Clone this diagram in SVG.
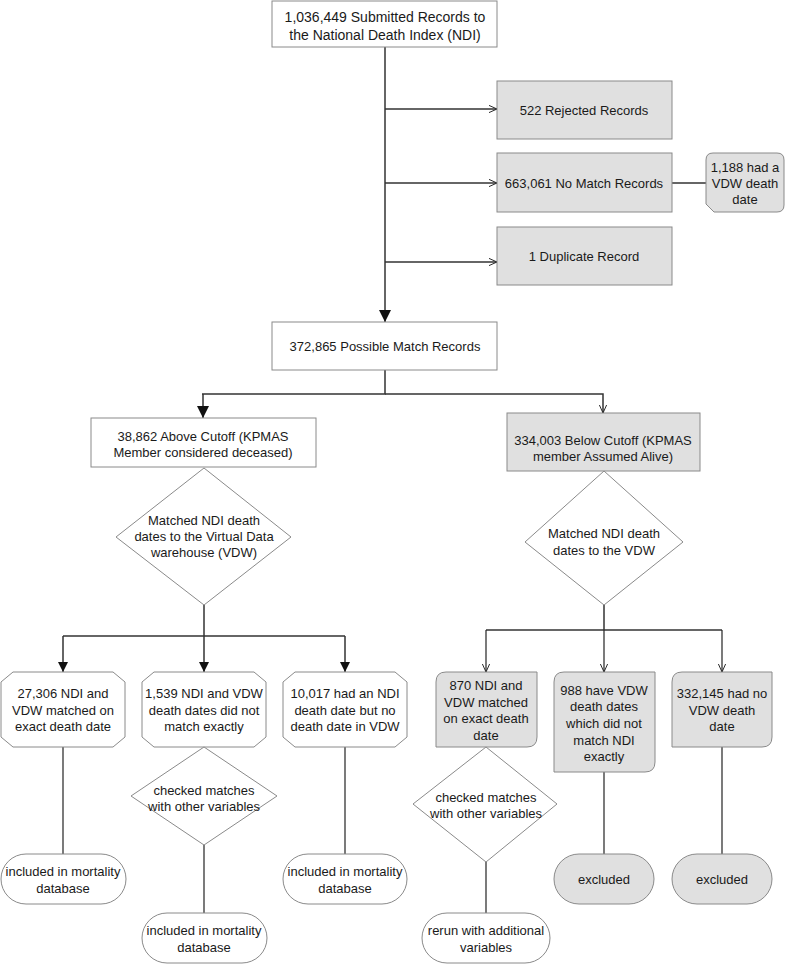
<svg xmlns="http://www.w3.org/2000/svg" width="785" height="964" viewBox="0 0 785 964">
<style>
  text{font-family:"Liberation Sans",Arial,sans-serif;font-size:13px;fill:#1a1a1a;text-anchor:middle;dominant-baseline:central}
  .big{font-size:14px}
  .w{fill:#ffffff;stroke:#8a8a8a;stroke-width:1}
  .g{fill:#e0e0e0;stroke:#8a8a8a;stroke-width:1}
  .c{fill:none;stroke:#333333;stroke-width:1.5}
  .ct{fill:none;stroke:#222222;stroke-width:1.2}
</style>
<defs>
  <marker id="fill" viewBox="0 0 10 10" refX="10" refY="5" markerWidth="10" markerHeight="10" markerUnits="userSpaceOnUse" orient="auto">
    <path d="M0,0 L10,5 L0,10 Z" fill="#111"/>
  </marker>
  <marker id="bigfill" viewBox="0 0 10 10" refX="10" refY="5" markerWidth="15" markerHeight="12" markerUnits="userSpaceOnUse" orient="auto">
    <path d="M0,0 L10,5 L0,10 Z" fill="#111"/>
  </marker>
  <marker id="open" viewBox="0 0 10 10" refX="10" refY="5" markerWidth="8" markerHeight="8" markerUnits="userSpaceOnUse" orient="auto">
    <path d="M0,0.5 L10,5 L0,9.5" fill="none" stroke="#222" stroke-width="1.2"/>
  </marker>
</defs>

<g id="connectors">
  <line class="c" x1="385" y1="47" x2="385" y2="322" marker-end="url(#bigfill)"/>
  <line class="c" x1="385" y1="109" x2="497" y2="109" marker-end="url(#open)"/>
  <line class="c" x1="385" y1="183" x2="497" y2="183" marker-end="url(#open)"/>
  <line class="c" x1="385" y1="262" x2="497" y2="262" marker-end="url(#open)"/>
  <line class="c" x1="672" y1="183" x2="706" y2="183"/>
  <polyline class="c" points="385,370 385,394 202,394"/>
  <line class="c" x1="203" y1="394" x2="203" y2="418" marker-end="url(#bigfill)"/>
  <polyline class="c" points="385,394 603,394 603,413" marker-end="url(#open)"/>
  <line class="c" x1="204" y1="605" x2="204" y2="636"/>
  <line class="c" x1="63" y1="636" x2="345" y2="636"/>
  <line class="c" x1="63" y1="636" x2="63" y2="672" marker-end="url(#fill)"/>
  <line class="c" x1="204" y1="636" x2="204" y2="672" marker-end="url(#fill)"/>
  <line class="c" x1="345" y1="636" x2="345" y2="672" marker-end="url(#fill)"/>
  <line class="c" x1="604" y1="605" x2="604" y2="630"/>
  <line class="c" x1="486" y1="630" x2="722" y2="630"/>
  <line class="ct" x1="486" y1="630" x2="486" y2="672" marker-end="url(#open)"/>
  <line class="ct" x1="604" y1="630" x2="604" y2="672" marker-end="url(#open)"/>
  <line class="ct" x1="722" y1="630" x2="722" y2="672" marker-end="url(#open)"/>
  <line class="ct" x1="63" y1="747" x2="63" y2="854"/>
  <line class="ct" x1="345" y1="747" x2="345" y2="854"/>
  <line class="ct" x1="204" y1="845" x2="204" y2="913"/>
  <line class="ct" x1="486" y1="862" x2="486" y2="913"/>
  <line class="ct" x1="604" y1="772" x2="604" y2="854"/>
  <line class="ct" x1="722" y1="747" x2="722" y2="854"/>
</g>

<g id="submitted">
  <rect class="w" x="272" y="1" width="225" height="46"/>
  <text class="big" x="385" y="17">1,036,449 Submitted Records to</text>
  <text class="big" x="385" y="35">the National Death Index (NDI)</text>
</g>
<g id="rejected">
  <rect class="g" x="497" y="81" width="175" height="58"/>
  <text x="584" y="110">522 Rejected Records</text>
</g>
<g id="nomatch">
  <rect class="g" x="497" y="153" width="175" height="59"/>
  <text x="584" y="183">663,061 No Match Records</text>
</g>
<g id="vdw1188">
  <path class="g" d="M713,153 H777 Q784,153 784,160 V205 Q784,212 777,212 H714 L706,204 V160 Q706,153 713,153 Z"/>
  <text x="745" y="167">1,188 had a</text>
  <text x="745" y="183">VDW death</text>
  <text x="745" y="199">date</text>
</g>
<g id="duplicate">
  <rect class="g" x="497" y="227" width="175" height="58"/>
  <text x="584" y="256">1 Duplicate Record</text>
</g>
<g id="possible">
  <rect class="w" x="272" y="322" width="225" height="48"/>
  <text x="385" y="346">372,865 Possible Match Records</text>
</g>
<g id="above">
  <rect class="w" x="91" y="418" width="225" height="49"/>
  <text x="203" y="436">38,862 Above Cutoff (KPMAS</text>
  <text x="203" y="452">Member considered deceased)</text>
</g>
<g id="below">
  <rect class="g" x="507" y="413" width="193" height="58"/>
  <text x="603" y="440">334,003 Below Cutoff (KPMAS</text>
  <text x="603" y="456">member Assumed Alive)</text>
</g>
<g id="matchLeft">
  <polygon class="w" points="204,468 291,537 204,605 116,537"/>
  <text x="204" y="520">Matched NDI death</text>
  <text x="204" y="536">dates to the Virtual Data</text>
  <text x="204" y="552">warehouse (VDW)</text>
</g>
<g id="matchRight">
  <polygon class="w" points="604,471 683,542 604,605 525,542"/>
  <text x="604" y="533">Matched NDI death</text>
  <text x="604" y="550">dates to the VDW</text>
</g>

<g id="exact27306">
  <polygon class="w" points="13,672 113,672 125,682 125,737 113,747 13,747 1,737 1,682"/>
  <text x="63" y="693">27,306 NDI and</text>
  <text x="63" y="710">VDW matched on</text>
  <text x="63" y="726">exact death date</text>
</g>
<g id="notexact1539">
  <polygon class="w" points="154,672 254,672 266,682 266,737 254,747 154,747 142,737 142,682"/>
  <text x="204" y="693">1,539 NDI and VDW</text>
  <text x="204" y="710">death dates did not</text>
  <text x="204" y="726">match exactly</text>
</g>
<g id="nodate10017">
  <polygon class="w" points="295,672 395,672 407,682 407,737 395,747 295,747 283,737 283,682"/>
  <text x="345" y="693">10,017 had an NDI</text>
  <text x="345" y="710">death date but no</text>
  <text x="345" y="726">death date in VDW</text>
</g>
<g id="checkedLeft">
  <polygon class="w" points="204,747 277,796 204,845 131,796"/>
  <text x="204" y="790">checked matches</text>
  <text x="204" y="806">with other variables</text>
</g>
<g id="included1">
  <rect class="w" x="1" y="854" width="125" height="50" rx="25" ry="25"/>
  <text x="63" y="871">included in mortality</text>
  <text x="63" y="888">database</text>
</g>
<g id="included2">
  <rect class="w" x="142" y="913" width="125" height="50" rx="25" ry="25"/>
  <text x="204" y="930">included in mortality</text>
  <text x="204" y="947">database</text>
</g>
<g id="included3">
  <rect class="w" x="283" y="854" width="124" height="50" rx="25" ry="25"/>
  <text x="345" y="871">included in mortality</text>
  <text x="345" y="888">database</text>
</g>

<g id="exact870">
  <path class="g" d="M446,672 H537 V737 Q537,747 527,747 H436 V682 Q436,672 446,672 Z"/>
  <text x="486" y="685">870 NDI and</text>
  <text x="486" y="702">VDW matched</text>
  <text x="486" y="718">on exact death</text>
  <text x="486" y="735">date</text>
</g>
<g id="notexact988">
  <path class="g" d="M564,672 H655 V762 Q655,772 645,772 H554 V682 Q554,672 564,672 Z"/>
  <text x="604" y="690">988 have VDW</text>
  <text x="604" y="706">death dates</text>
  <text x="604" y="723">which did not</text>
  <text x="604" y="740">match NDI</text>
  <text x="604" y="756">exactly</text>
</g>
<g id="nodate332145">
  <path class="g" d="M682,672 H772 V737 Q772,747 762,747 H672 V682 Q672,672 682,672 Z"/>
  <text x="722" y="693">332,145 had no</text>
  <text x="722" y="710">VDW death</text>
  <text x="722" y="726">date</text>
</g>
<g id="checkedRight">
  <polygon class="w" points="486,747 557,804 486,862 413,804"/>
  <text x="486" y="797">checked matches</text>
  <text x="486" y="813">with other variables</text>
</g>
<g id="rerun">
  <rect class="w" x="422" y="913" width="128" height="50" rx="25" ry="25"/>
  <text x="486" y="930">rerun with additional</text>
  <text x="486" y="947">variables</text>
</g>
<g id="excluded1">
  <rect class="g" x="554" y="854" width="100" height="50" rx="25" ry="25"/>
  <text x="604" y="879">excluded</text>
</g>
<g id="excluded2">
  <rect class="g" x="672" y="854" width="100" height="50" rx="25" ry="25"/>
  <text x="722" y="879">excluded</text>
</g>
</svg>
